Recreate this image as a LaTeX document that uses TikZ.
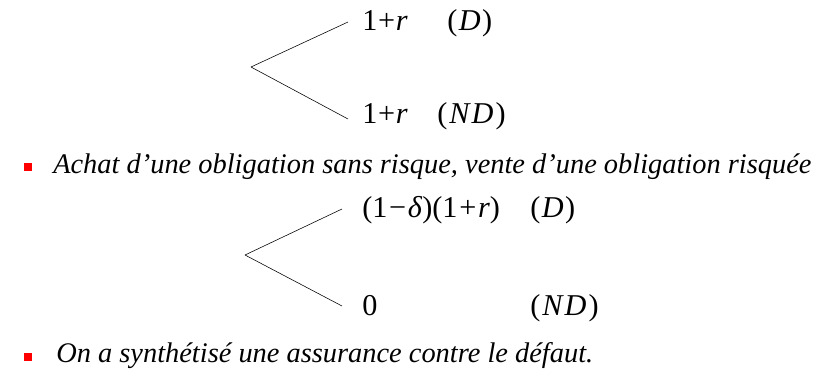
\documentclass[tikz,border=0pt]{standalone}
\usepackage{fontspec}
\setmainfont{Liberation Serif}
\usepackage{xcolor}
\usetikzlibrary{positioning}
\definecolor{colBullet}{RGB}{255,0,0}

\begin{document}
\begin{tikzpicture}[
  x=0.025cm, y=-0.025cm,
  branch/.style={thin},
  payoff/.style={anchor=base west, inner sep=0pt, font=\fontsize{21.5}{24}\selectfont},
  item/.style={anchor=base west, inner sep=0pt, font=\fontsize{20.2}{24}\selectfont\itshape},
  bullet/.style={fill=colBullet, inner sep=0pt, minimum size=0.22cm},
]
\useasboundingbox (0,0) rectangle (827,368);

% First tree: riskless bond
\coordinate (rootA) at (251,67);
\coordinate (endUpA) at (348,22);
\coordinate (endDnA) at (348,119);
\node[payoff] (upA) at (362,30) {1\kern0.5pt+\kern0.5pt\textit{r}};
\node[payoff] (upAs) at (447,30) {(\kern1pt\textit{D}\/\kern1pt)};
\node[payoff] (dnA) at (362,123) {1\kern0.5pt+\kern0.5pt\textit{r}};
\node[payoff] (dnAs) at (437,123) {(\kern1.5pt\textit{N\kern1.5pt D}\/\kern1.5pt)};
\draw[branch] (rootA) -- (endUpA);
\draw[branch] (rootA) -- (endDnA);

% Bullet 1
\node[bullet] (bulA) at (28,167) {};
\node[item] (txtA) at (53,173) {Achat d’une obligation sans risque, vente d’une obligation risquée};

% Second tree: long riskless, short risky
\coordinate (rootB) at (245,255);
\coordinate (endUpB) at (342,209);
\coordinate (endDnB) at (342,306);
\node[payoff] (upB) at (362,217) {(1\kern1.2pt−\kern1.2pt\textit{δ})(1\kern1.2pt+\kern1.2pt\textit{r})};
\node[payoff] (upBs) at (530,217) {(\kern1pt\textit{D}\/\kern1pt)};
\node[payoff] (dnB) at (362,315) {0};
\node[payoff] (dnBs) at (530,315) {(\kern1.5pt\textit{N\kern1.5pt D}\/\kern1.5pt)};
\draw[branch] (rootB) -- (endUpB);
\draw[branch] (rootB) -- (endDnB);

% Bullet 2
\node[bullet] (bulB) at (28,357) {};
\node[item] (txtB) at (56,362) {On a synthétisé une assurance contre le défaut.};
\end{tikzpicture}
\end{document}
